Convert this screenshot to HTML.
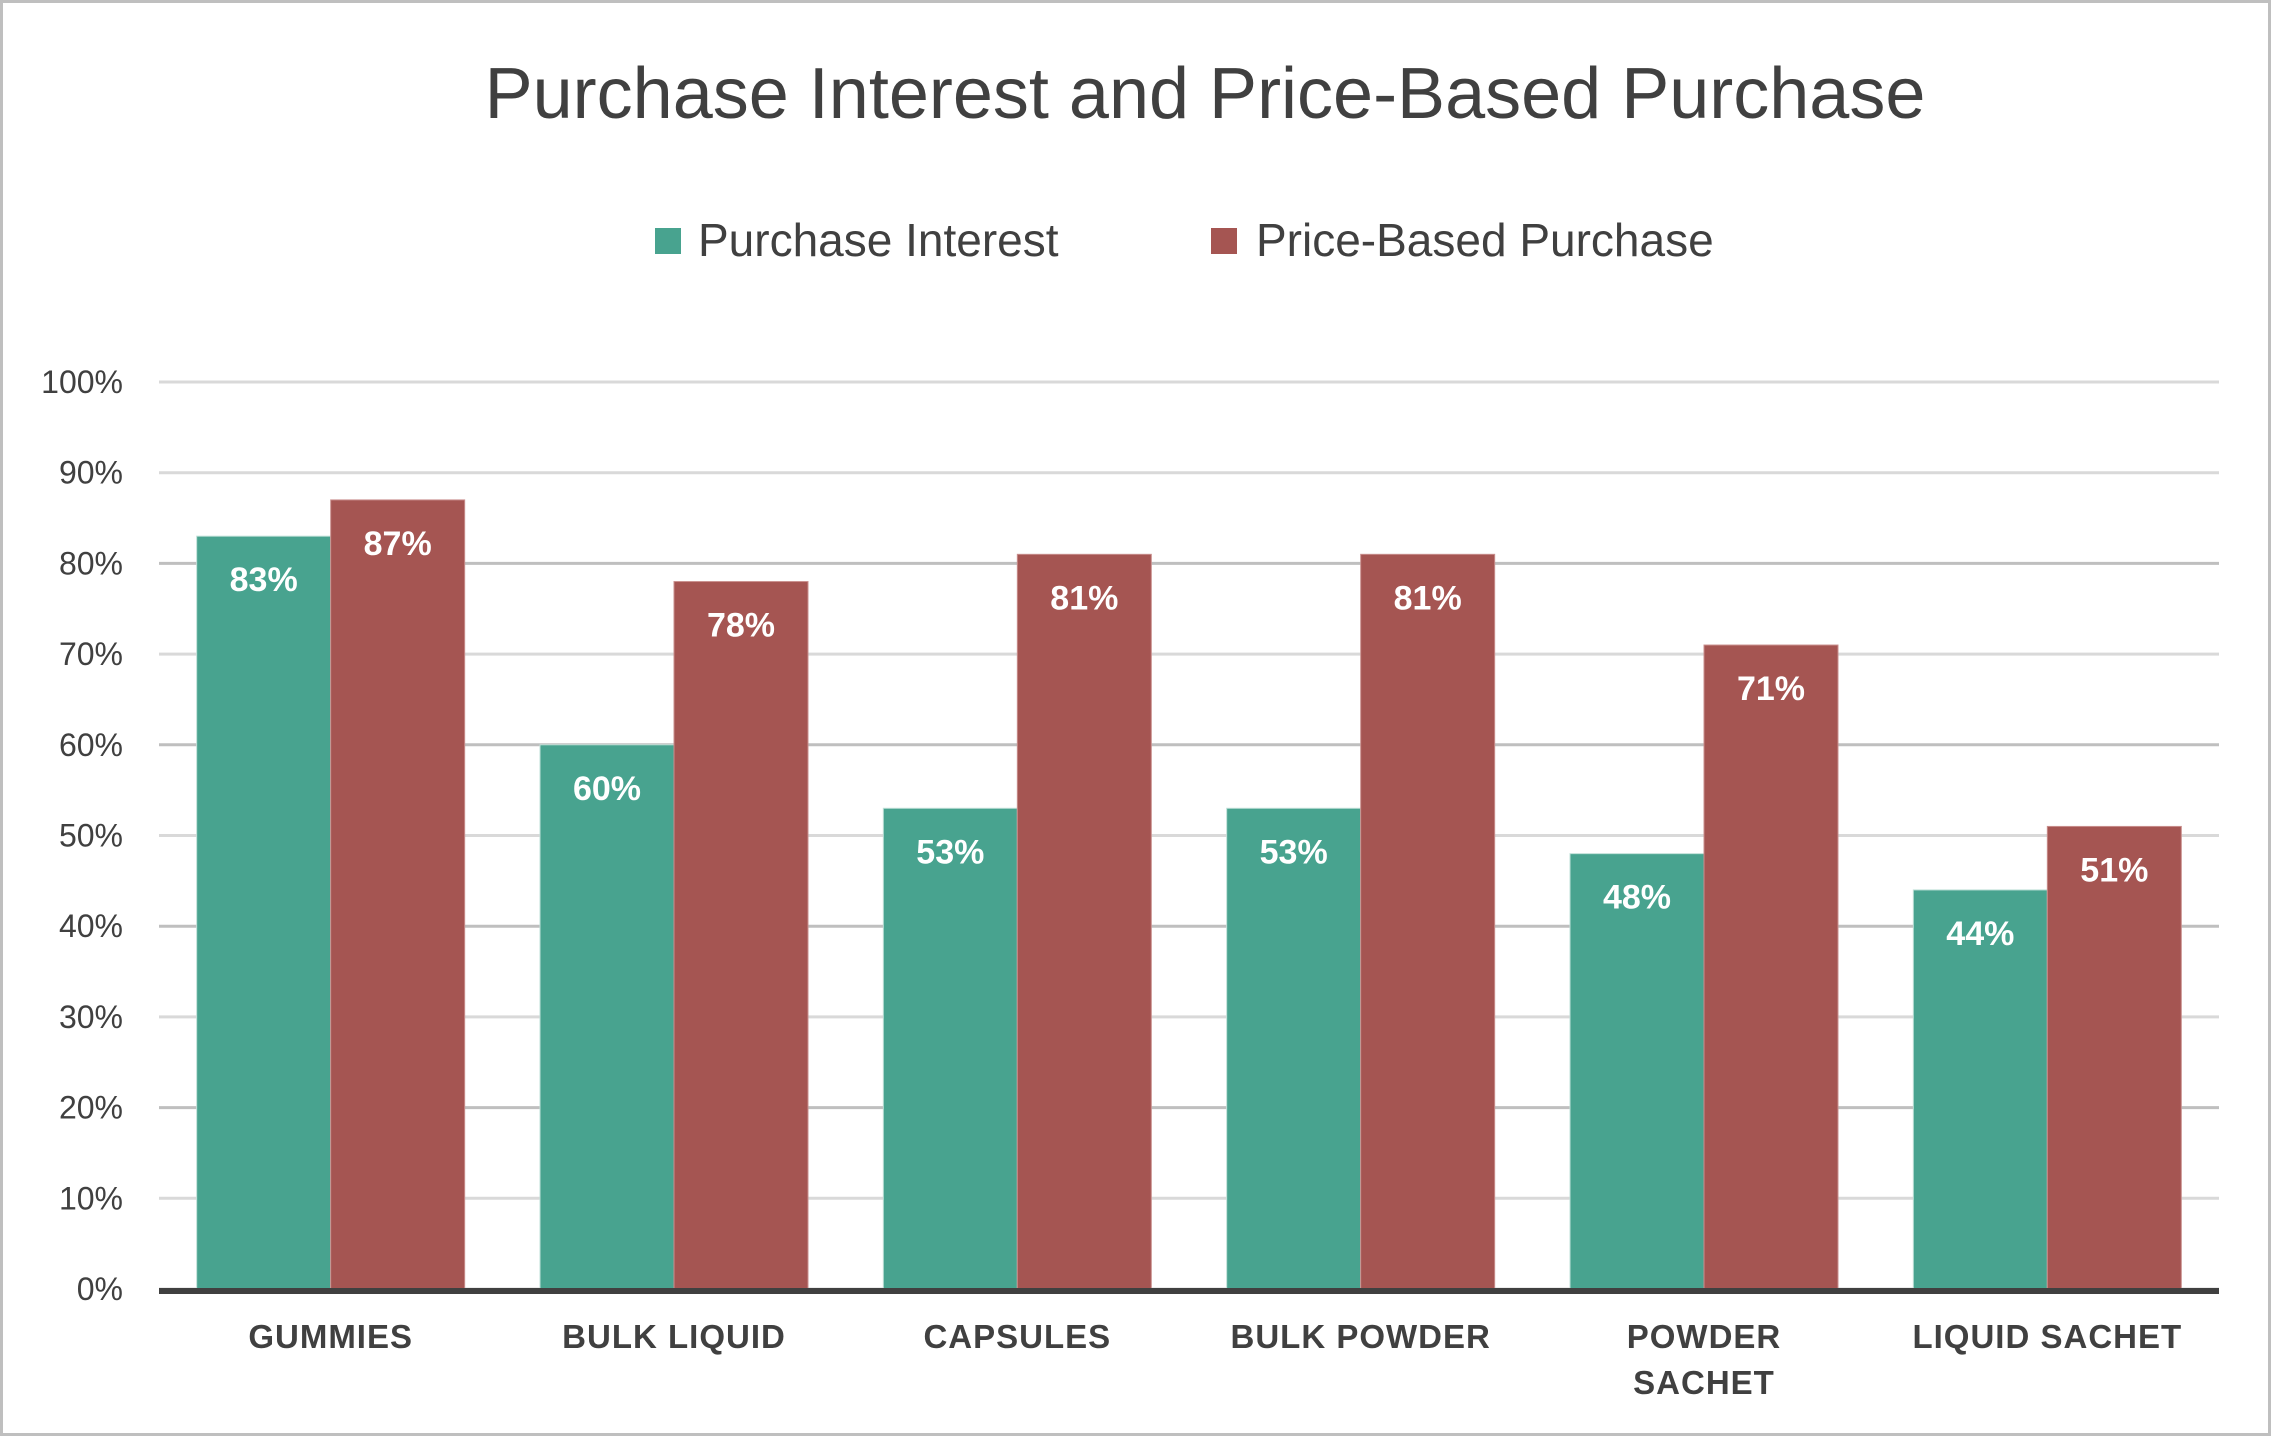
<!DOCTYPE html>
<html><head><meta charset="utf-8"><style>
body{margin:0;background:#fff;}
svg{display:block;font-family:"Liberation Sans",sans-serif;}
</style></head><body>
<svg id="chart" width="2271" height="1436" viewBox="0 0 2271 1436" xmlns="http://www.w3.org/2000/svg">
<rect x="1.5" y="1.5" width="2268" height="1433" fill="#fff" stroke="#bfbfbf" stroke-width="3"/>
<text x="1205" y="118" text-anchor="middle" font-size="72" fill="#404040">Purchase Interest and Price-Based Purchase</text>
<g>
<rect x="655" y="228" width="26" height="26" fill="#48a38f"/>
<text x="698" y="256" font-size="46" fill="#404040">Purchase Interest</text>
<rect x="1211" y="228" width="26" height="26" fill="#a55552"/>
<text x="1256" y="256" font-size="46" fill="#404040">Price-Based Purchase</text>
</g>
<g id="grid"></g><g id="bars"></g><g id="labels"></g>
</svg>
<script>
const categories=["GUMMIES","BULK LIQUID","CAPSULES","BULK POWDER","POWDER|SACHET","LIQUID SACHET"];
const interest=[83,60,53,53,48,44];
const priceBased=[87,78,81,81,71,51];
const yTicks=[0,10,20,30,40,50,60,70,80,90,100];
const NS="http://www.w3.org/2000/svg";
const x0=159,x1=2219,yb=1289,yt=382;
const y=v=>yb-(yb-yt)*v/100;
const cw=(x1-x0)/categories.length;
const bw=134;
function mk(tag,attrs,parent,text){const e=document.createElementNS(NS,tag);for(const k in attrs)e.setAttribute(k,attrs[k]);if(text!==undefined)e.textContent=text;parent.appendChild(e);return e;}
const g=document.getElementById('grid'),b=document.getElementById('bars'),l=document.getElementById('labels');
yTicks.forEach(t=>{
 const ln=mk('line',{x1:x0,x2:x1,y1:y(t),y2:y(t),stroke:t%20===0&&t>0&&t<100?'#bfbfbf':'#d9d9d9','stroke-width':3},g);
 
 
 const tx=mk('text',{x:123,y:y(t)+11,'text-anchor':'end','font-size':32,fill:'#404040'},g,t+'%');
 
 
});
categories.forEach((c,i)=>{
 const cx=x0+cw*(i+0.5);
 [[interest[i],'#48a38f',cx-bw],[priceBased[i],'#a55552',cx]].forEach(([v,col,bx],j)=>{
  const r=mk('rect',{x:bx,y:y(v),width:bw,height:yb-y(v),fill:col,stroke:j? '#c98f8d':'#bfe0d8','stroke-width':1},b);
  
  
  const t=mk('text',{x:bx+bw/2,y:y(v)+55,'text-anchor':'middle','font-size':34,'font-weight':'bold',fill:'#fff'},l,v+'%');
  
  
 });
 c.split('|').forEach((p,k)=>{
  const t=mk('text',{x:cx,y:1348+k*46,'text-anchor':'middle','font-size':33,'font-weight':'bold',fill:'#404040','letter-spacing':1},l,p);
  
  
 });
});
const ax=mk('line',{x1:x0,x2:x1,y1:yb+2,y2:yb+2,stroke:'#404040','stroke-width':6},l);


</script>
</body></html>
